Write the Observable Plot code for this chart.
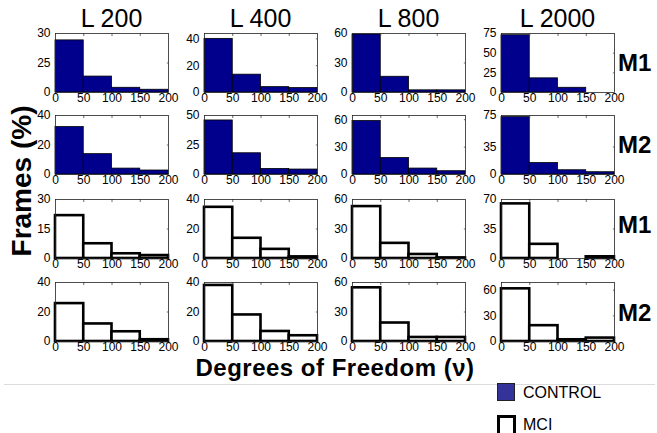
<!DOCTYPE html>
<html>
<head>
<meta charset="utf-8">
<script src="https://cdn.jsdelivr.net/npm/d3@7"></script>
<script src="https://cdn.jsdelivr.net/npm/@observablehq/plot@0.6"></script>
<style>
  body { margin: 0; background: #fff; }
  #wrap { position: relative; width: 657px; height: 433px; overflow: hidden; background: #fff; font-family: "Liberation Sans", Arial, sans-serif; color: #000; }
  .abs { position: absolute; white-space: nowrap; line-height: 1; }
  .panel { position: absolute; }
</style>
</head>
<body>
<div id="wrap"></div>
<script>
// ---- data ----
const binEdges = [0, 50, 100, 150, 200];
const xTicks = [0, 50, 100, 150, 200];
const columnTitles = ["L 200", "L 400", "L 800", "L 2000"];
const rowLabels = ["M1", "M2", "M1", "M2"];
const rowGroups = ["CONTROL", "CONTROL", "MCI", "MCI"];

// percentage of frames per bin (0-50, 50-100, 100-150, 150-200), one list per column
const control_M1 = [[26.5, 8.1, 2.4, 1.4], [40, 13.3, 4, 3.3], [59, 16, 2.2, 2.2], [72.8, 18, 6, 0]];
const control_M2 = [[32.2, 13.8, 4, 2.7], [45.8, 18, 4.7, 4.2], [58.5, 18, 6.5, 3.6], [72.9, 14.6, 5.4, 2.9]];
const mci_M1 = [[21.8, 7.5, 2.4, 1.5], [34.7, 13.7, 6.2, 1.1], [52.8, 15.4, 4.1, 0.6], [64.8, 16.8, 0, 2]];
const mci_M2 = [[25.7, 11.9, 6.6, 1.2], [38, 18, 6.8, 3.9], [54.6, 18.8, 4.1, 4.1], [61.6, 18.5, 2, 4]];

// y-axis maxima
const yMax_row1 = [30, 44, 60, 75];
const yMax_row2 = [40, 50, 64.6, 75];
const yMax_row3 = [30, 40, 60, 70];
const yMax_row4 = [40, 40, 60, 69];

// y tick values and their printed labels
const yTicks_row1 = [[0, 15, 30], [0, 20, 40], [0, 30, 60], [0, 25, 50, 75]];
const yTickLabels_row1 = [["0", "25", "30"], ["0", "20", "40"], ["0", "30", "60"], ["0", "25", "50", "75"]];
const yTicks_row2 = [[0, 20, 40], [0, 25, 50], [0, 30, 60], [0, 35, 75]];
const yTickLabels_row2 = [["0", "20", "40"], ["0", "25", "50"], ["0", "30", "60"], ["0", "35", "75"]];
const yTicks_row3 = [[0, 15, 30], [0, 20, 40], [0, 30, 60], [0, 35, 70]];
const yTickLabels_row3 = [["0", "15", "30"], ["0", "20", "40"], ["0", "30", "60"], ["0", "35", "70"]];
const yTicks_row4 = [[0, 20, 40], [0, 20, 40], [0, 30, 60], [0, 30, 60]];
const yTickLabels_row4 = [["0", "20", "40"], ["0", "20", "40"], ["0", "30", "60"], ["0", "30", "60"]];

// ---- layout / style ----
const rowsValues = [control_M1, control_M2, mci_M1, mci_M2];
const rowsMax = [yMax_row1, yMax_row2, yMax_row3, yMax_row4];
const rowsTicks = [yTicks_row1, yTicks_row2, yTicks_row3, yTicks_row4];
const rowsTickLabels = [yTickLabels_row1, yTickLabels_row2, yTickLabels_row3, yTickLabels_row4];

const colX = [55, 204, 352, 501];
const rowY = [32.5, 115, 199, 282];
const PW = 113, PH = 59;
const mL = 30, mR = 8, mT = 6, mB = 14;

const CONTROL_FILL = "#00008c";
const wrap = document.getElementById("wrap");

function addText(txt, left, top, size, opts = {}) {
  const d = document.createElement("div");
  d.className = "abs";
  d.textContent = txt;
  d.style.left = left + "px";
  d.style.top = top + "px";
  d.style.fontSize = size + "px";
  if (opts.bold) d.style.fontWeight = "bold";
  if (opts.lineHeight) d.style.lineHeight = opts.lineHeight;
  if (opts.letterSpacing) d.style.letterSpacing = opts.letterSpacing;
  if (opts.center) d.style.transform = "translateX(-50%)";
  wrap.appendChild(d);
  return d;
}

for (let r = 0; r < 4; r++) {
  for (let c = 0; c < 4; c++) {
    const vals = rowsValues[r][c];
    const ymax = rowsMax[r][c];
    const ticks = rowsTicks[r][c];
    const labels = rowsTickLabels[r][c];
    const isControl = rowGroups[r] === "CONTROL";
    const bars = vals.map((v, i) => ({x1: binEdges[i], x2: binEdges[i + 1], y: v})).filter(d => d.y > 0);
    const innerY = ticks.filter(t => t > 0 && t < ymax);
    const innerX = xTicks.filter(t => t > 0 && t < 200);
    const chart = Plot.plot({
      width: PW + mL + mR,
      height: PH + mT + mB,
      marginLeft: mL, marginRight: mR, marginTop: mT, marginBottom: mB,
      style: {fontFamily: "Liberation Sans, Arial, sans-serif", fontSize: "12px", color: "#000", background: "transparent", overflow: "visible"},
      x: {domain: [0, 200], ticks: xTicks, tickSize: 0, tickPadding: 1, label: null},
      y: {domain: [0, ymax], ticks: ticks, tickSize: 0, tickPadding: 5, label: null,
          tickFormat: d => labels[ticks.indexOf(d)]},
      marks: [
        Plot.rectY(bars, {
          x1: "x1", x2: "x2", y: "y",
          fill: isControl ? CONTROL_FILL : "white",
          stroke: "black",
          strokeWidth: isControl ? 0.8 : 2.6
        }),
        Plot.ruleY(innerY, {x1: 200, x2: 198, stroke: "#444", strokeWidth: 0.8}),
        Plot.ruleX(innerX, {y1: ymax, y2: ymax * (1 - 3 / PH), stroke: "#444", strokeWidth: 0.8}),
        Plot.frame({stroke: "#222", strokeWidth: 0.8})
      ]
    });
    chart.classList.add("panel");
    chart.style.left = (colX[c] - mL) + "px";
    chart.style.top = (rowY[r] - mT) + "px";
    wrap.appendChild(chart);
  }
}

// column titles
columnTitles.forEach((t, c) => addText(t, colX[c] + PW / 2, 5.8, 25, {center: true}));
// row labels
const rowBaselines = [71.7, 153.3, 233.3, 321.7];
rowLabels.forEach((t, r) => addText(t, 618, rowBaselines[r] - 20.3, 24, {bold: true}));

// y label
const yl = addText("Frames (%)", 22, 181, 28, {bold: true});
yl.style.transform = "translate(-50%, -50%) rotate(-90deg)";

// x label
addText("Degrees of Freedom (\u03bd)", 335, 358.7, 24, {bold: true, center: true, lineHeight: "0.75", letterSpacing: "0.5px"});

// separator line
const line = document.createElement("div");
line.style.cssText = "position:absolute;left:4px;top:384px;width:651px;height:1px;background:#dcdcdc;";
wrap.appendChild(line);

// legend
const sq1 = document.createElement("div");
sq1.style.cssText = "position:absolute;left:497px;top:383px;width:16px;height:16px;background:#333399;border:1px solid #222;";
wrap.appendChild(sq1);
addText("CONTROL", 523, 384.5, 16);
const sq2 = document.createElement("div");
sq2.style.cssText = "position:absolute;left:497px;top:415px;width:13px;height:16px;background:#fff;border:3px solid #000;";
wrap.appendChild(sq2);
addText("MCI", 523, 417, 16);
</script>
</body>
</html>
